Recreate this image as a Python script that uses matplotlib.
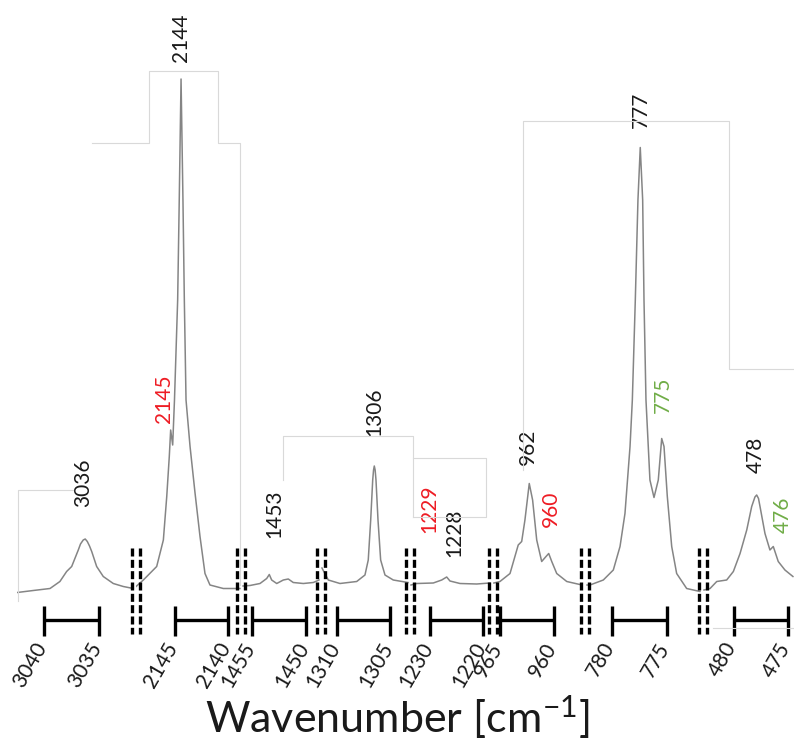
import matplotlib
matplotlib.use("Agg")
import matplotlib.pyplot as plt
from matplotlib.lines import Line2D
import matplotlib.transforms as mtransforms

FONT = "Lato"
plt.rcParams["font.family"] = [FONT, "DejaVu Sans"]
plt.rcParams["mathtext.fontset"] = "custom"
plt.rcParams["mathtext.rm"] = FONT
plt.rcParams["mathtext.default"] = "regular"

# ---------------- data ----------------
# x-range (wavenumber, cm-1) shown in each broken-axis segment (high -> low)
seg_xlim = [(3042.45, 3031.68), (2148.73, 2138.77), (1456.02, 1448.61),
            (1311.51, 1303.11), (1233.77, 1218.21), (965.69, 957.18),
            (782.50, 771.77), (482.92, 474.44)]

# spectrum traces per segment (wavenumber, intensity a.u.)
wn_3040 = [3042.43, 3040.97, 3039.45, 3038.55, 3037.94, 3037.48, 3036.88, 3036.68,
           3036.43, 3036.25, 3036.06, 3035.86, 3035.66, 3035.21, 3034.61, 3033.70,
           3032.79, 3031.88]
in_3040 = [1.5, 1.9, 2.3, 3.7, 5.7, 6.7, 10.0, 11.2, 12.0, 12.2, 11.7, 10.8, 9.7,
           6.7, 4.7, 3.3, 2.7, 2.3]

wn_2145 = [2148.68, 2147.99, 2146.73, 2146.10, 2145.78, 2145.54, 2145.41, 2145.22,
           2145.05, 2144.75, 2144.60, 2144.43, 2144.25, 2144.12, 2143.96, 2143.58,
           2143.11, 2142.64, 2142.17, 2141.70, 2140.44, 2138.87]
in_2145 = [2.7, 4.0, 6.7, 12.0, 20.7, 28.7, 34.0, 31.0, 40.0, 60.0, 80.0, 104.2,
           80.0, 60.0, 40.0, 30.7, 21.4, 12.7, 5.3, 3.0, 2.3, 2.3]

wn_1455 = [1455.83, 1455.19, 1454.26, 1453.64, 1453.40, 1453.18, 1452.71, 1452.10,
           1451.64, 1451.18, 1450.25, 1449.32, 1448.80]
in_1455 = [2.8, 2.9, 3.3, 4.3, 5.1, 4.0, 3.3, 4.0, 4.2, 3.5, 3.3, 3.5, 4.0]

wn_1310 = [1311.42, 1310.82, 1309.72, 1308.14, 1307.36, 1307.05, 1306.82, 1306.63,
           1306.55, 1306.48, 1306.40, 1306.32, 1306.13, 1305.88, 1305.47, 1304.69,
           1303.30]
in_1310 = [6.4, 4.0, 3.3, 3.7, 5.0, 8.0, 16.0, 24.0, 26.0, 26.8, 26.0, 24.0, 16.0,
           8.0, 5.0, 4.0, 3.5]

wn_1230 = [1233.58, 1232.51, 1229.38, 1227.79, 1226.85, 1226.23, 1224.34, 1221.19, 1218.68]
in_1230 = [3.0, 3.3, 3.4, 4.0, 4.6, 3.8, 3.3, 3.2, 3.4]

wn_965 = [965.56, 965.00, 964.07, 963.31, 962.99, 962.69, 962.29, 961.98, 961.60,
          961.14, 960.74, 960.49, 960.21, 959.75, 958.82, 957.41]
in_965 = [3.4, 3.7, 5.3, 11.0, 11.7, 16.0, 23.3, 20.0, 12.0, 7.7, 8.7, 9.3, 7.7, 5.3, 3.7, 3.0]

wn_780 = [782.27, 782.00, 780.79, 779.88, 779.27, 778.82, 778.36, 778.15, 777.88,
          777.64, 777.43, 777.21, 777.09, 776.91, 776.55, 776.18, 775.79, 775.48,
          775.27, 774.97, 774.57, 774.12, 773.21, 772.00]
in_780 = [3.0, 3.0, 4.0, 6.0, 10.7, 17.3, 30.7, 40.0, 60.0, 80.0, 90.5, 80.0, 60.0,
          40.0, 24.0, 20.5, 24.0, 32.3, 30.7, 20.7, 10.7, 5.3, 2.3, 1.7]

wn_480 = [482.78, 482.22, 481.60, 480.68, 480.06, 479.44, 478.82, 478.36, 478.06,
          477.90, 477.73, 477.59, 477.13, 476.67, 476.36, 475.90, 475.28, 474.54]
in_480 = [2.0, 2.3, 3.7, 4.0, 5.7, 9.3, 14.0, 18.7, 20.6, 21.0, 20.3, 18.7, 13.3,
          10.0, 10.7, 7.7, 6.0, 4.7]

spectra = [(wn_3040, in_3040), (wn_2145, in_2145), (wn_1455, in_1455), (wn_1310, in_1310),
           (wn_1230, in_1230), (wn_965, in_965), (wn_780, in_780), (wn_480, in_480)]

# scale-bar end values per segment
bar_ends = [(3040, 3035), (2145, 2140), (1455, 1450), (1310, 1305),
            (1230, 1220), (965, 960), (780, 775), (480, 475)]

# peak labels per segment: (text, wavenumber position, intensity of label base, colour key)
peak_labels = [
    [("3036", 3036.45, 18.6, "k")],
    [("2144", 2144.39, 107.6, "k"), ("2145", 2146.04, 35.4, "r")],
    [("1453", 1452.96, 12.4, "k")],
    [("1306", 1306.51, 32.8, "k")],
    [("1229", 1230.19, 13.4, "r"), ("1228", 1225.47, 8.6, "k")],
    [("962", 962.45, 27.0, "k"), ("960", 960.28, 14.6, "r")],
    [("777", 777.36, 94.4, "k"), ("775", 775.36, 37.4, "g")],
    [("478", 477.96, 25.4, "k"), ("476", 475.46, 13.4, "g")],
]
label_colors = {"k": "#1a1a1a", "r": "#ee1c24", "g": "#70ad47"}

# ---------------- layout ----------------
W, H = 794, 744
seg_edges_px = [17, 135.5, 241, 321, 410, 492.5, 584.5, 702.5, 794]
YLIM = (-28.8, 120.0)


def fy(ypx):
    return 1 - ypx / H


fig = plt.figure(figsize=(W / 100, H / 100), dpi=100)

# faint outline artefacts of the composited panels
outline_paths = [
    [(17.5, 601), (17.5, 490), (73, 490)],
    [(92, 143), (149, 143), (149, 70.5), (217.5, 70.5), (217.5, 143), (240, 143), (240, 585)],
    [(283, 480), (283, 436), (413, 436), (413, 517)],
    [(413, 458), (486, 458), (486, 517), (413, 517)],
    [(523, 470), (523, 120.5), (729, 120.5), (729, 369), (794, 369)],
    [(713, 628), (794, 628)],
]
for path in outline_paths:
    xs = [p[0] / W for p in path]
    ys = [fy(p[1]) for p in path]
    fig.add_artist(Line2D(xs, ys, color="#d9d9d9", lw=0.8))

label_shift = mtransforms.ScaledTranslation(-2 / 100, -1 / 100, fig.dpi_scale_trans)

for i in range(8):
    l, r = seg_edges_px[i], seg_edges_px[i + 1]
    ax = fig.add_axes([l / W, 0, (r - l) / W, 1])
    ax.set_xlim(*seg_xlim[i])
    ax.set_ylim(*YLIM)
    ax.axis("off")
    wn, inten = spectra[i]
    ax.plot(wn, inten, color="#858585", lw=1.1)

    tr = ax.get_xaxis_transform()
    a, b = bar_ends[i]
    ax.plot([a, b], [fy(620), fy(620)], transform=tr, color="k", lw=2.4,
            solid_capstyle="butt", clip_on=False)
    for e in (a, b):
        ax.plot([e, e], [fy(606), fy(636)], transform=tr, color="k", lw=2.4,
                solid_capstyle="butt", clip_on=False)
        ax.text(e, fy(643), str(e), transform=tr + label_shift, rotation=60, ha="right",
                va="center", rotation_mode="anchor", fontsize=15, color="#1a1a1a")

    for txt, x, y, c in peak_labels[i]:
        ax.text(x, y, txt, rotation=90, ha="center", va="bottom",
                fontsize=15, color=label_colors[c])

# axis-break marks
for bx in seg_edges_px[1:-1]:
    for dx in (-4, 4):
        fig.add_artist(Line2D([(bx + dx) / W] * 2, [fy(548), fy(634)], color="k",
                              lw=2.4, dashes=(2.4, 1.0)))

fig.text(397 / W, fy(717), "Wavenumber [cm$^{-1}$]", ha="center", va="center",
         fontsize=31, color="#1a1a1a")

fig.savefig("out.png", dpi=100, facecolor="white")
